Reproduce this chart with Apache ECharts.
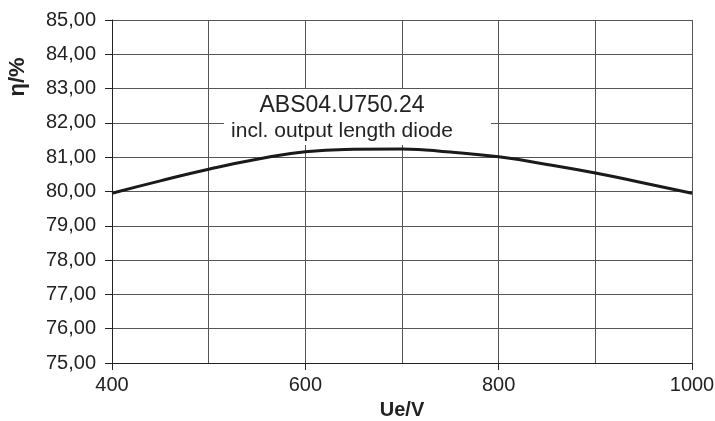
<!DOCTYPE html>
<html>
<head>
<meta charset="utf-8">
<script src="https://cdn.jsdelivr.net/npm/echarts@6/dist/echarts.min.js"></script>
<style>
html,body{margin:0;padding:0;background:#fff;}
#chart{width:715px;height:421px;}
</style>
</head>
<body>
<div id="chart"></div>
<script>
// Data
var voltage = [400, 450, 500, 550, 600, 650, 700, 750, 800, 850, 900, 950, 1000];
var efficiency = [79.95, 80.31, 80.65, 80.94, 81.16, 81.23, 81.24, 81.15, 81.01, 80.79, 80.54, 80.25, 79.95];
var xTickLabels = ['400', '600', '800', '1000'];
var yTickLabels = ['75,00','76,00','77,00','78,00','79,00','80,00','81,00','82,00','83,00','84,00','85,00'];
var titleLine1 = 'ABS04.U750.24';
var titleLine2 = 'incl. output length diode';
var xName = 'Ue/V';
var yName = 'η/%';

var FONT = '"Liberation Sans", Arial, sans-serif';
var chart = echarts.init(document.getElementById('chart'), null, {renderer: 'canvas'});
var gridColor = '#555';
var option = {
  animation: false,
  backgroundColor: '#fff',
  grid: {left: 112, right: 23, top: 20, bottom: 58, containLabel: false, outerBoundsMode: 'none'},
  xAxis: {
    type: 'value', min: 400, max: 1000, interval: 200,
    axisLine: {show: true, onZero: false, lineStyle: {color: '#222', width: 1}},
    axisTick: {show: true, length: 7, lineStyle: {color: '#222'}},
    axisLabel: {
      margin: 12, color: '#222', fontSize: 20, fontFamily: FONT,
      formatter: function (v) { var i = xTickLabels.indexOf(String(v)); return i >= 0 ? xTickLabels[i] : ''; }
    },
    splitLine: {show: true, lineStyle: {color: gridColor, width: 1}},
    minorTick: {show: false, splitNumber: 2},
    minorSplitLine: {show: true, lineStyle: {color: gridColor, width: 1}},
    name: xName, nameLocation: 'middle', nameGap: 37,
    nameTextStyle: {color: '#222', fontSize: 20, fontWeight: 'bold', fontFamily: FONT}
  },
  yAxis: {
    type: 'value', min: 75, max: 85, interval: 1,
    axisLine: {show: true, lineStyle: {color: '#222', width: 1}},
    axisTick: {show: true, length: 7, lineStyle: {color: '#222'}},
    axisLabel: {
      margin: 16, color: '#222', fontSize: 20, fontFamily: FONT,
      formatter: function (v) { var i = Math.round(v) - 75; return yTickLabels[i] || ''; }
    },
    splitLine: {show: true, lineStyle: {color: gridColor, width: 1}}
  },
  graphic: [
    {type: 'rect', z: 1, shape: {x: 224, y: 89, width: 267, height: 56}, style: {fill: '#fff'}},
    {type: 'text', z: 1, style: {text: titleLine1, x: 342, y: 106, textAlign: 'center', textVerticalAlign: 'middle', fill: '#222', font: '23px ' + FONT}},
    {type: 'text', z: 1, style: {text: titleLine2, x: 342, y: 131, textAlign: 'center', textVerticalAlign: 'middle', fill: '#222', font: '21px ' + FONT}},
    {type: 'text', z: 1, x: 18, y: 77, rotation: Math.PI / 2, style: {text: yName, x: 0, y: 0, textAlign: 'center', textVerticalAlign: 'middle', fill: '#222', font: 'bold 22px ' + FONT}}
  ],
  series: [{
    type: 'line', z: 3, smooth: true, symbol: 'none',
    data: voltage.map(function (x, i) { return [x, efficiency[i]]; }),
    lineStyle: {color: '#1a1a1a', width: 3}
  }]
};
chart.setOption(option);
</script>
</body>
</html>
